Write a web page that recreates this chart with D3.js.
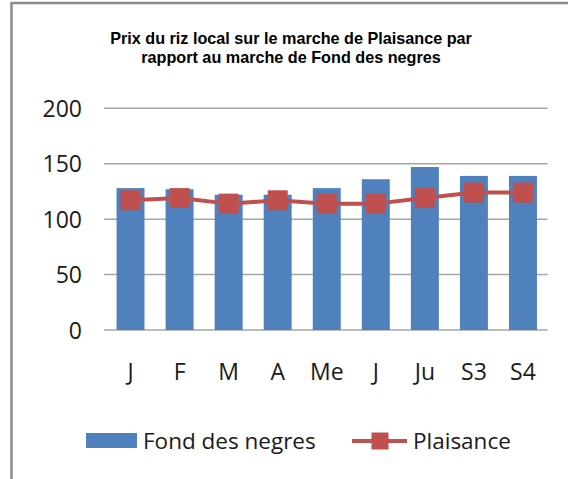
<!DOCTYPE html>
<html>
<head>
<meta charset="utf-8">
<script src="https://cdn.jsdelivr.net/npm/d3@7"></script>
<style>
  html, body { margin: 0; padding: 0; background: #fff; }
  svg { display: block; }
</style>
</head>
<body>
<svg id="chart" width="568" height="479"></svg>
<script>
const categories = ["J", "F", "M", "A", "Me", "J ", "Ju", "S3", "S4"];
const categoryLabels = ["J", "F", "M", "A", "Me", "J", "Ju", "S3", "S4"];
const fondDesNegres = [128, 127, 122, 122, 128, 136, 147, 139, 139];
const plaisance = [117, 119, 114, 117, 114, 114, 119, 124, 124];
const yTicks = [0, 50, 100, 150, 200];
const titleLines = ["Prix du riz local sur le marche de Plaisance par", "rapport au marche de Fond des negres"];
const seriesNames = ["Fond des negres", "Plaisance"];

const blue = "#4F81BD", red = "#C0504D";
const svg = d3.select("#chart");
const font = "'Open Sans', 'Noto Sans', sans-serif";
const titleFont = "'Liberation Sans', Arial, sans-serif";
const textColor = "#1a1a1a";

// outer border
svg.append("rect").attr("x", 11.5).attr("y", 3).attr("width", 600).attr("height", 500)
  .attr("fill", "#fff").attr("stroke", "#8c8c8c").attr("stroke-width", 2.5);

// title
const titles = svg.append("g").selectAll("text").data(titleLines).join("text")
  .attr("x", 291).attr("y", (d, i) => 44 + i * 18.5)
  .attr("text-anchor", "middle")
  .attr("font-family", titleFont).attr("font-weight", 700).attr("font-size", 15)
  .attr("fill", "#000").text(d => d);
// scale font so first line spans ~377px like the reference, capped to avoid line overlap
const w0 = titles.node().getComputedTextLength();
const fs = Math.min(16.2, 15 * 377 / w0);
titles.attr("font-size", fs);

const x = d3.scaleBand().domain(categories).range([106, 547.5]).paddingInner(0.43).paddingOuter(0.215);
const y = d3.scaleLinear().domain([0, 200]).range([330, 108.3]);

// gridlines
svg.append("g").selectAll("line").data(yTicks).join("line")
  .attr("x1", 104).attr("x2", 547.5)
  .attr("y1", d => y(d)).attr("y2", d => y(d))
  .attr("stroke", "#a6a6a6").attr("stroke-width", 1.5);

// y axis labels
const yAxis = d3.axisLeft(y).tickValues(yTicks).tickSize(0).tickPadding(0);
const yg = svg.append("g").attr("transform", "translate(82,0)").call(yAxis);
yg.select(".domain").remove();
yg.selectAll("text").attr("font-family", font).attr("font-size", 23).attr("fill", textColor).attr("dy", "0.35em");

// x axis labels
const xAxis = d3.axisBottom(x).tickSize(0).tickPadding(0).tickFormat((d, i) => categoryLabels[i]);
const xg = svg.append("g").attr("transform", "translate(0,364)").call(xAxis);
xg.select(".domain").remove();
xg.selectAll("text").attr("font-family", font).attr("font-size", 23).attr("fill", textColor).attr("dy", "0.71em");

// bars
svg.append("g").selectAll("rect").data(fondDesNegres).join("rect")
  .attr("x", (d, i) => x(categories[i]))
  .attr("width", x.bandwidth())
  .attr("y", d => y(d))
  .attr("height", d => y(0) - y(d))
  .attr("fill", blue);

// line
const cx = i => x(categories[i]) + x.bandwidth() / 2;
const line = d3.line().x((d, i) => cx(i)).y(d => y(d));
svg.append("path").datum(plaisance).attr("d", line)
  .attr("fill", "none").attr("stroke", red).attr("stroke-width", 4).attr("stroke-linejoin", "round");

const ms = 20;
svg.append("g").selectAll("rect").data(plaisance).join("rect")
  .attr("x", (d, i) => cx(i) - ms / 2).attr("y", d => y(d) - ms / 2)
  .attr("width", ms).attr("height", ms).attr("fill", red);

// legend
const lg = svg.append("g");
lg.append("rect").attr("x", 86).attr("y", 433).attr("width", 51).attr("height", 15).attr("fill", blue);
lg.append("text").attr("x", 143).attr("y", 441).attr("dy", "0.35em")
  .attr("font-family", font).attr("font-size", 22.5).attr("fill", textColor).text(seriesNames[0]);
lg.append("line").attr("x1", 352).attr("x2", 407).attr("y1", 441).attr("y2", 441)
  .attr("stroke", red).attr("stroke-width", 4);
lg.append("rect").attr("x", 371.5).attr("y", 432.5).attr("width", 17).attr("height", 17).attr("fill", red);
lg.append("text").attr("x", 413).attr("y", 441).attr("dy", "0.35em")
  .attr("font-family", font).attr("font-size", 22.5).attr("fill", textColor).text(seriesNames[1]);
</script>
</body>
</html>
